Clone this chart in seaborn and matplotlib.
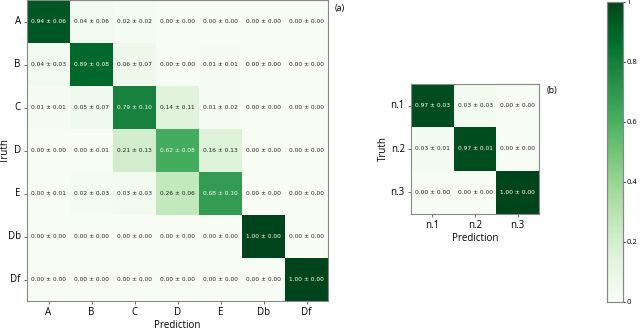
import matplotlib
matplotlib.use("Agg")
import matplotlib.pyplot as plt
import numpy as np
import seaborn as sb

# (a) seven-class confusion matrix: mean and std
labels_a = ["A", "B", "C", "D", "E", "Db", "Df"]
mean_a = [
    [0.94, 0.04, 0.02, 0.00, 0.00, 0.00, 0.00],
    [0.04, 0.89, 0.06, 0.00, 0.01, 0.00, 0.00],
    [0.01, 0.05, 0.79, 0.14, 0.01, 0.00, 0.00],
    [0.00, 0.00, 0.21, 0.62, 0.16, 0.00, 0.00],
    [0.00, 0.02, 0.03, 0.26, 0.68, 0.00, 0.00],
    [0.00, 0.00, 0.00, 0.00, 0.00, 1.00, 0.00],
    [0.00, 0.00, 0.00, 0.00, 0.00, 0.00, 1.00],
]
std_a = [
    [0.06, 0.06, 0.02, 0.00, 0.00, 0.00, 0.00],
    [0.03, 0.08, 0.07, 0.00, 0.01, 0.00, 0.00],
    [0.01, 0.07, 0.10, 0.11, 0.02, 0.00, 0.00],
    [0.00, 0.01, 0.13, 0.08, 0.13, 0.00, 0.00],
    [0.01, 0.03, 0.03, 0.06, 0.10, 0.00, 0.00],
    [0.00, 0.00, 0.00, 0.00, 0.00, 0.00, 0.00],
    [0.00, 0.00, 0.00, 0.00, 0.00, 0.00, 0.00],
]

# (b) three-class confusion matrix
labels_b = ["n.1", "n.2", "n.3"]
mean_b = [
    [0.97, 0.03, 0.00],
    [0.03, 0.97, 0.00],
    [0.00, 0.00, 1.00],
]
std_b = [
    [0.03, 0.03, 0.00],
    [0.01, 0.01, 0.00],
    [0.00, 0.00, 0.00],
]

cbar_ticks = [0, 0.2, 0.4, 0.6, 0.8, 1]


def annot_text(m, s):
    m = np.array(m)
    s = np.array(s)
    return np.array([[f"{m[i, j]:.2f} \u00b1 {s[i, j]:.2f}" for j in range(m.shape[1])]
                     for i in range(m.shape[0])])


plt.rcParams["font.family"] = ["Open Sans", "DejaVu Sans"]
W, H = 640, 333
fig = plt.figure(figsize=(W / 100, H / 100), dpi=100)


def px_axes(x0, y0, x1, y1):
    return fig.add_axes([x0 / W, 1 - y1 / H, (x1 - x0) / W, (y1 - y0) / H])


ax_a = px_axes(27, 0, 328, 301)
ax_b = px_axes(411, 84, 539, 214)
cax = px_axes(607, 2, 623, 302)

akw = {"fontsize": 4.2, "family": "DejaVu Sans"}

sb.heatmap(np.array(mean_a), ax=ax_a, cmap="Greens", vmin=0, vmax=1,
           annot=annot_text(mean_a, std_a), fmt="", annot_kws=akw,
           xticklabels=labels_a, yticklabels=labels_a,
           cbar_ax=cax, cbar_kws={"ticks": cbar_ticks})
sb.heatmap(np.array(mean_b), ax=ax_b, cmap="Greens", vmin=0, vmax=1,
           annot=annot_text(mean_b, std_b), fmt="", annot_kws=akw,
           xticklabels=labels_b, yticklabels=labels_b, cbar=False)

for ax in (ax_a, ax_b):
    ax.set_xlabel("Prediction", fontsize=7, labelpad=1)
    ax.set_ylabel("Truth", fontsize=7, labelpad=1)
    ax.tick_params(axis="both", labelsize=7, length=2.5, width=0.6, pad=2,
                   color="#555555")
    ax.tick_params(axis="y", rotation=0)
    for sp in ax.spines.values():
        sp.set_visible(True)
        sp.set_color("#888888")
        sp.set_linewidth(0.8)

# "Truth" of panel (a) sits right at the figure edge
ax_a.yaxis.set_label_coords(-16 / 301, 0.5)

cax.set_yticklabels([f"{t:g}" for t in cbar_ticks])
cax.tick_params(labelsize=5.5, length=1.5, width=0.6, pad=1)
for sp in cax.spines.values():
    sp.set_visible(True)
    sp.set_color("#888888")
    sp.set_linewidth(0.8)

fig.text(335 / W, 1 - 9 / H, "(a)", fontsize=6.5, va="center")
fig.text(547 / W, 1 - 90 / H, "(b)", fontsize=6.5, va="center")

fig.savefig("out.png", dpi=100)
